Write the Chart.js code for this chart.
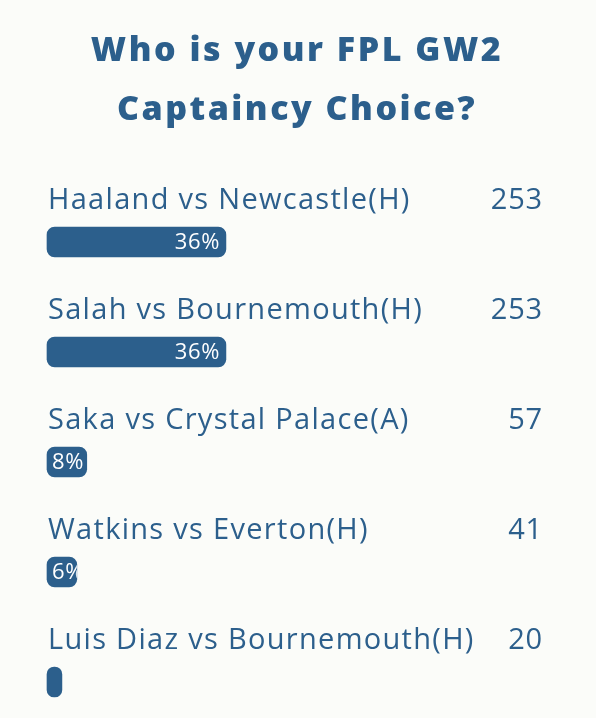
<!DOCTYPE html>
<html>
<head>
<meta charset="utf-8">
<script src="https://cdn.jsdelivr.net/npm/chart.js@4"></script>
<style>
  html, body { margin: 0; padding: 0; background: #fbfcf9; }
  #poll { display: block; }
</style>
</head>
<body>
<canvas id="poll" width="596" height="718"></canvas>
<script>
// poll data
var categories = [
    'Haaland vs Newcastle(H)',
    'Salah vs Bournemouth(H)',
    'Saka vs Crystal Palace(A)',
    'Watkins vs Everton(H)',
    'Luis Diaz vs Bournemouth(H)'
];
var votes = [253, 253, 57, 41, 20];
var percents = [36, 36, 8, 6, 3];
var titleLines = ['Who is your FPL GW2', 'Captaincy Choice?'];

var blue = '#2c5f8c';
var labelFont = '400 29px "Open Sans"';
var pctFont = '400 22px "Open Sans"';
var titleFont = '800 34px "Open Sans"';

// title, option names, vote counts and the % inside each bar
var pollLabels = {
    id: 'pollLabels',
    beforeDatasetsDraw: function(chart) {
        var ctx = chart.ctx;
        ctx.save();
        ctx.fillStyle = blue;
        ctx.font = titleFont;
        ctx.letterSpacing = '2.5px';
        ctx.textAlign = 'center';
        ctx.textBaseline = 'alphabetic';
        ctx.fillText(titleLines[0], 297, 61);
        ctx.fillText(titleLines[1], 297, 120);
        ctx.restore();
    },
    afterDatasetsDraw: function(chart) {
        var ctx = chart.ctx;
        var area = chart.chartArea;
        var meta = chart.getDatasetMeta(0);

        meta.data.forEach(function(bar, i) {
            var top = bar.y - bar.height / 2;
            var left = bar.base;
            var right = bar.x;

            ctx.save();
            ctx.fillStyle = blue;
            ctx.font = labelFont;
            ctx.letterSpacing = '1.3px';
            ctx.textBaseline = 'alphabetic';
            ctx.textAlign = 'left';
            ctx.fillText(categories[i], area.left + 1, bar.y - 33);
            ctx.letterSpacing = '0.8px';
            ctx.textAlign = 'right';
            ctx.fillText(String(votes[i]), 543, bar.y - 33);
            ctx.restore();

            // percentage, clipped to the bar
            if (right - left < 20) return;
            ctx.save();
            ctx.beginPath();
            ctx.rect(left, top, right - left, bar.height);
            ctx.clip();
            ctx.font = pctFont;
            ctx.letterSpacing = '0.6px';
            ctx.fillStyle = '#ffffff';
            ctx.textBaseline = 'middle';
            ctx.textAlign = 'left';
            var txt = percents[i] + '%';
            var w = ctx.measureText(txt).width;
            var x = Math.max(left + 5, right - 6 - w);
            ctx.fillText(txt, x, bar.y + 1);
            ctx.restore();
        });
    }
};

var chart = new Chart(document.getElementById('poll'), {
    type: 'bar',
    data: {
        labels: categories,
        datasets: [{
            data: percents,
            backgroundColor: blue,
            borderRadius: 8,
            borderSkipped: false,
            barThickness: 30,
            clip: false
        }]
    },
    options: {
        indexAxis: 'y',
        responsive: false,
        animation: false,
        layout: {
            padding: { top: 242, left: 47, right: 52, bottom: 36 }
        },
        scales: {
            x: { display: false, min: 0, max: 100 },
            y: { display: false, offset: false }
        },
        plugins: {
            legend: { display: false },
            tooltip: { enabled: false },
            title: { display: false }
        }
    },
    plugins: [pollLabels]
});
</script>
</body>
</html>
